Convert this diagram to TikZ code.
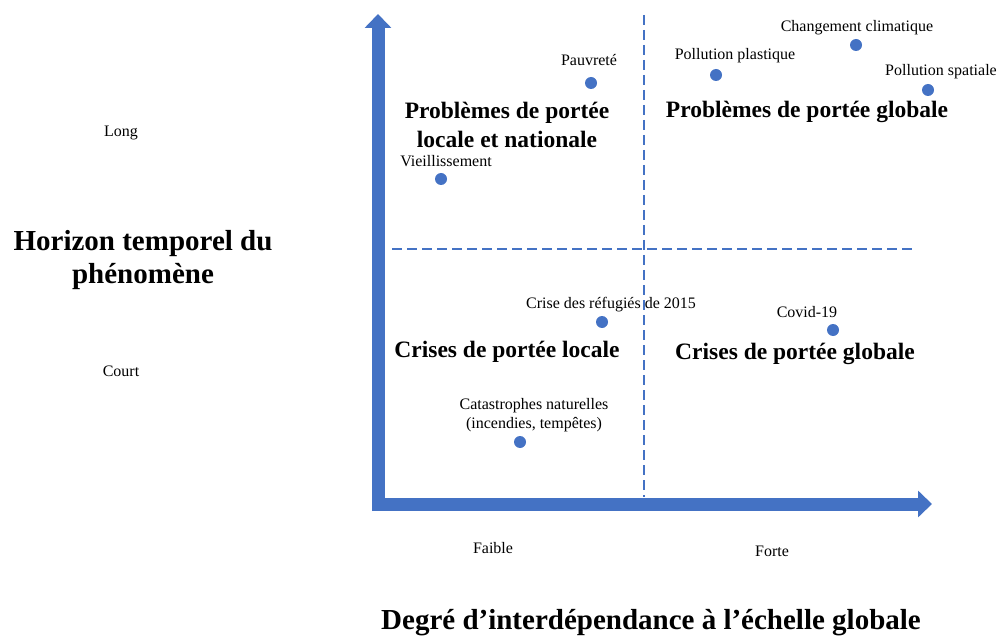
\documentclass[tikz,border=0pt]{standalone}
\usepackage{fontspec}
\setmainfont{Liberation Serif}
\usepackage{xcolor}
\usetikzlibrary{arrows.meta, positioning}
\definecolor{axisblue}{HTML}{4472C4}

\tikzset{
	axe/.style = {draw=axisblue, line width=13pt, -{Triangle[length=14pt, width=26pt]}},
	sep/.style = {draw=axisblue, line width=1.2pt, dash pattern=on 10pt off 5pt},
	evt/.style = {circle, fill=axisblue, inner sep=0pt, minimum size=12pt},
	lbl/.style = {font=\fontsize{16}{19}\selectfont, inner sep=0pt, align=center, yshift=-2pt},
	zone/.style = {font=\fontsize{23.5}{29}\selectfont\bfseries, inner sep=0pt, align=center, yshift=-2.5pt},
	titre/.style = {font=\fontsize{29}{33}\selectfont\bfseries, inner sep=0pt, align=center, yshift=-3pt}
}

\begin{document}
\begin{tikzpicture}[x=1pt, y=-1pt]
			\useasboundingbox (0,0) rectangle (998,636);
			
			\coordinate (orig) at (378,511);
			\coordinate (top) at (378,14);
			\coordinate (corner) at (372,504);
			\coordinate (right) at (932,504);
			
			\coordinate (vtop) at (644,15);
			\coordinate (vbot) at (644,497);
			\coordinate (hleft) at (392,249);
			\coordinate (hright) at (916,249);
			
			\draw [sep] (vtop) -- (vbot);
			\draw [sep] (hleft) -- (hright);
			
			\draw [axe] (orig) -- (top);
			\draw [axe] (corner) -- (right);
			
			\node [evt] (pauv) at (591,83) {};
			\node [evt] (plast) at (716,75) {};
			\node [evt] (clim) at (856,45) {};
			\node [evt] (spat) at (928,90) {};
			\node [evt] (vieil) at (441,179) {};
			\node [evt] (refug) at (602,322) {};
			\node [evt] (covid) at (833,330) {};
			\node [evt] (catas) at (520,442) {};
			
			\node [lbl] (lpauv) at (589,58) {Pauvreté};
			\node [lbl] (lplast) at (735,54) {Pollution plastique};
			\node [lbl] (lclim) at (857,26) {Changement climatique};
			\node [lbl] (lspat) at (941,70) {Pollution spatiale};
			\node [lbl] (lvieil) at (446,159) {Vieillissement};
			\node [lbl] (lrefug) at (611,303) {Crise des réfugiés de 2015};
			\node [lbl] (lcovid) at (807,310) {Covid-19};
			\node [lbl] (lcatas) at (534,413) {Catastrophes naturelles\\(incendies, tempêtes)};
			
			\node [zone] (pbloc) at (507,122) {Problèmes de portée\\locale et nationale};
			\node [zone] (pbglob) at (807,109) {Problèmes de portée globale};
			\node [zone] (crloc) at (507,349) {Crises de portée locale};
			\node [zone] (crglob) at (795,351) {Crises de portée globale};
			
			\node [lbl] (long) at (121,131) {Long};
			\node [lbl] (court) at (121,369) {Court};
			\node [lbl] (faible) at (493,546) {Faible};
			\node [lbl] (forte) at (772,549) {Forte};
			
			\node [titre] (horiz) at (143,257) {Horizon temporel du\\phénomène};
			\node [titre] (degre) at (651,620) {Degré d’interdépendance à l’échelle globale};
\end{tikzpicture}
\end{document}
